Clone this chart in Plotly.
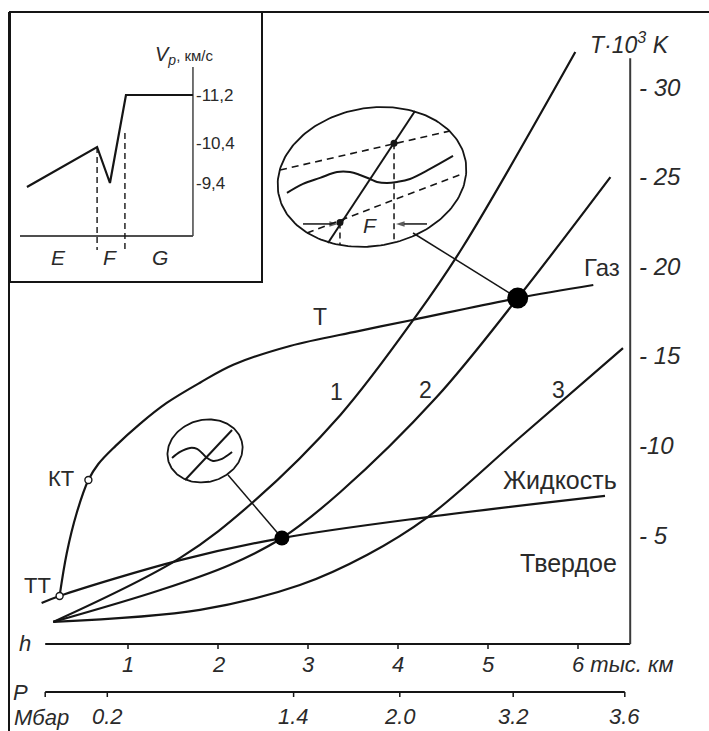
import numpy as np
import plotly.graph_objects as go

# ---------------- data (h in thousand km, T in 10^3 K) ----------------
curve1_h = [0.17, 1.58, 2.39, 3.36, 4.21, 4.72, 5.97]
curve1_T = [0.15, 3.72, 6.84, 11.70, 17.28, 21.07, 31.95]
curve2_h = [0.17, 1.36, 2.13, 2.71, 3.36, 4.43, 5.33, 6.36]
curve2_T = [0.15, 1.93, 3.33, 4.83, 7.40, 12.70, 18.22, 24.97]
curve3_h = [0.17, 1.80, 2.91, 3.66, 4.33, 5.36, 6.50]
curve3_T = [0.15, 0.82, 2.21, 3.90, 6.00, 10.47, 15.43]
melt_h = [0.04, 0.24, 1.58, 2.71, 4.33, 6.30]
melt_T = [1.21, 1.60, 3.60, 4.83, 6.00, 7.18]
boil_h = [0.24, 0.32, 0.43, 0.56, 0.67, 0.86, 1.13, 1.43, 1.80, 2.17, 2.80, 3.56, 4.16, 5.33, 6.17]
boil_T = [1.60, 4.00, 6.23, 8.07, 8.96, 9.96, 11.19, 12.37, 13.50, 14.50, 15.55, 16.38, 17.00, 18.22, 18.95]

tt_point = (0.24, 1.60)
kt_point = (0.56, 8.07)
dot_small = (2.71, 4.83)
dot_big = (5.33, 18.22)

T_ticks = [5, 10, 15, 20, 25, 30]
T_tick_text = ["- 5", "-10", "- 15", "- 20", "- 25", "- 30"]
h_ticks = [1, 2, 3, 4, 5, 6]
h_tick_text = ["1", "2", "3", "4", "5", "6"]
P_tick_text = ["0.2", "1.4", "2.0", "3.2", "3.6"]
P_tick_h = [0.77, 2.84, 4.02, 5.28, 6.52]

# inset: Vp (km/s) vs schematic depth
inset_x = [0.4, 4.43, 5.17, 6.09, 9.94]
inset_vp = [9.3, 10.3, 9.4, 11.2, 11.2]
inset_tick_vals = [9.4, 10.4, 11.2]
inset_tick_text = ["-9,4", "-10,4", "-11,2"]
inset_bounds = [4.43, 6.03]
inset_zones = ["E", "F", "G"]

# ---------------- layout constants ----------------
W, H = 709, 731
XR = [-0.4222, 7.4556]
YR = [-5.9375, 34.855]
SX = W / (XR[1] - XR[0])
SY = H / (YR[1] - YR[0])
FONT = "Arial, Liberation Sans, sans-serif"
INK = "#151515"
TXT = "#2a2a2a"

h_axis_T = -1.08
T_axis_h = 6.58
P_axis_T = -3.76
axis_h0 = 0.08

# inset schematic vertical levels
level_vals = [8.4, 9.4, 10.4, 11.2]
level_pos = [0.0, 1.0, 2.0, 3.2]


def vp_level(v):
    return np.interp(v, level_vals, level_pos)


fig = go.Figure()


def line(x, y, width=2.0, color=INK, dash=None, shape="linear", xa="x", ya="y", smoothing=1.0):
    fig.add_trace(go.Scatter(x=x, y=y, mode="lines", xaxis=xa, yaxis=ya,
                             line=dict(color=color, width=width, dash=dash, shape=shape, smoothing=smoothing),
                             hoverinfo="skip", showlegend=False))


def text(x, y, s, size=23, italic=False, xanchor="center", yanchor="middle", xref="x", yref="y"):
    if italic:
        s = "<i>" + s + "</i>"
    fig.add_annotation(x=x, y=y, text=s, showarrow=False, xref=xref, yref=yref,
                       xanchor=xanchor, yanchor=yanchor,
                       font=dict(family=FONT, size=size, color=TXT))


def oval(cx, cy, rx, ry, rot):
    t = np.linspace(0, 2 * np.pi, 181)
    a = np.radians(rot)
    dx = rx * np.cos(t) * np.cos(a) - ry * np.sin(t) * np.sin(a)
    dy = rx * np.cos(t) * np.sin(a) + ry * np.sin(t) * np.cos(a)
    return cx + dx / SX, cy + dy / SY


def glyph(c, rx, ry, u, v):
    return (c[0] + np.asarray(u, float) * rx / SX).tolist(), (c[1] + np.asarray(v, float) * ry / SY).tolist()


# ---------------- main curves ----------------
for hx, ty in [(curve1_h, curve1_T), (curve2_h, curve2_T), (curve3_h, curve3_T),
               (melt_h, melt_T), (boil_h, boil_T)]:
    line(hx, ty, width=2.2, shape="spline")

# axes
line([axis_h0, T_axis_h], [h_axis_T, h_axis_T], width=2)
line([T_axis_h, T_axis_h], [h_axis_T, 31.6], width=2, color="#3a3a3a")
line([axis_h0, P_tick_h[-1]], [P_axis_T, P_axis_T], width=2)
tick_len_T = 5 / SY
for hv in h_ticks:
    line([hv, hv], [h_axis_T, h_axis_T - tick_len_T], width=1.5)
for hv in [axis_h0] + P_tick_h:
    line([hv, hv], [P_axis_T, P_axis_T - tick_len_T], width=1.5)

# tick labels
for tv, tt in zip(T_ticks, T_tick_text):
    text(T_axis_h + 7 / SX, tv, tt, size=24, italic=True, xanchor="left")
for hv, ht in zip(h_ticks[:-1], h_tick_text[:-1]):
    text(hv, h_axis_T - 21 / SY, ht, size=22, italic=True)
text(h_ticks[-1] - 8 / SX, h_axis_T - 21 / SY, h_tick_text[-1] + " тыс. км", size=22, italic=True, xanchor="left")
for hv, pt in zip(P_tick_h, P_tick_text):
    text(hv, P_axis_T - 25 / SY, pt, size=22, italic=True)
text(axis_h0 - 20 / SX, h_axis_T, "h", size=22, italic=True)
text(axis_h0 - 25 / SX, P_axis_T - 1 / SY, "P", size=22, italic=True)
text(axis_h0 - 33 / SX, P_axis_T - 26 / SY, "Мбар", size=22, italic=True, xanchor="left")
text(T_axis_h, 31.6 + 15 / SY, "T·10<sup>3</sup> K", size=23, italic=True)

# region / curve labels
text(3.13, 17.16, "Т", size=23)
text(3.32, 12.98, "1", size=23)
text(4.30, 13.09, "2", size=23)
text(5.78, 13.09, "3", size=23)
text(6.27, 19.90, "Газ", size=24)
text(5.80, 8.07, "Жидкость", size=25)
text(5.89, 3.44, "Твердое", size=25)
text(0.26, 8.18, "КТ", size=22)
text(-0.01, 2.20, "ТТ", size=22)

# ---------------- magnifier ovals ----------------
big_c = (3.711, 24.98)
big_rx, big_ry = 95, 69
small_c = (1.856, 9.69)
small_rx, small_ry = 38, 31

ox, oy = oval(big_c[0], big_c[1], big_rx, big_ry, 10)
line(ox.tolist(), oy.tolist(), width=1.8)
ox, oy = oval(small_c[0], small_c[1], small_rx, small_ry, 15)
line(ox.tolist(), oy.tolist(), width=1.8)

# connectors
cx_, cy_ = glyph(big_c, big_rx, big_ry, [0.432], [-0.812])
line([cx_[0], dot_big[0]], [cy_[0], dot_big[1]], width=1.5)
cx_, cy_ = glyph(small_c, small_rx, small_ry, [0.605], [-0.774])
line([cx_[0], dot_small[0]], [cy_[0], dot_small[1]], width=1.5)

# big oval contents
gx, gy = glyph(big_c, big_rx, big_ry, [-0.463, 0.453], [-0.957, 0.957])
line(gx, gy, width=2)
gx, gy = glyph(big_c, big_rx, big_ry, [-0.968, 0.821], [0.101, 0.667])
line(gx, gy, width=1.6, dash="7px,5px")
gx, gy = glyph(big_c, big_rx, big_ry, [-0.684, 0.947], [-0.812, 0.043])
line(gx, gy, width=1.6, dash="7px,5px")
wave_u = [-0.895, -0.726, -0.547, -0.368, -0.232, -0.126, -0.021, 0.053, 0.158, 0.263, 0.4, 0.611, 0.853]
wave_v = [-0.232, -0.101, -0.014, 0.072, 0.072, 0.029, -0.029, -0.072, -0.087, -0.072, -0.029, 0.116, 0.304]
gx, gy = glyph(big_c, big_rx, big_ry, wave_u, wave_v)
line(gx, gy, width=2, shape="spline")
gx, gy = glyph(big_c, big_rx, big_ry, [0.232, 0.232], [0.49, -0.928])
line(gx, gy, width=1.5, dash="6px,4px")
gx, gy = glyph(big_c, big_rx, big_ry, [-0.337, -0.337], [-0.66, -0.986])
line(gx, gy, width=1.5, dash="6px,4px")
gx, gy = glyph(big_c, big_rx, big_ry, [0.232, -0.337], [0.49, -0.66])
fig.add_trace(go.Scatter(x=gx, y=gy, mode="markers", marker=dict(color=INK, size=7),
                         hoverinfo="skip", showlegend=False))
# arrows (line + arrow-head marker)
for (u0, u1) in [(-0.726, -0.358), (0.579, 0.253)]:
    ax_, ay_ = glyph(big_c, big_rx, big_ry, [u0, u1], [-0.681, -0.681])
    fig.add_trace(go.Scatter(x=ax_, y=ay_, mode="lines+markers",
                             line=dict(color=INK, width=1.5),
                             marker=dict(symbol=["circle", "arrow"], size=[0, 9], color=INK,
                                         angleref="previous", line=dict(width=0)),
                             hoverinfo="skip", showlegend=False))
fx, fy = glyph(big_c, big_rx, big_ry, [-0.021], [-0.71])
text(fx[0], fy[0], "F", size=21, italic=True)

# small oval contents
gx, gy = glyph(small_c, small_rx, small_ry, [-0.526, 0.711], [-0.935, 0.677])
line(gx, gy, width=2)
sw_u = [-0.868, -0.658, -0.395, -0.211, -0.079, 0.053, 0.211, 0.447, 0.605, 0.711]
sw_v = [-0.226, -0.032, 0.097, 0.065, -0.065, -0.226, -0.323, -0.258, -0.129, -0.032]
gx, gy = glyph(small_c, small_rx, small_ry, sw_u, sw_v)
line(gx, gy, width=2, shape="spline")

# points
fig.add_trace(go.Scatter(x=[dot_small[0]], y=[dot_small[1]], mode="markers",
                         marker=dict(color="black", size=15), hoverinfo="skip", showlegend=False))
fig.add_trace(go.Scatter(x=[dot_big[0]], y=[dot_big[1]], mode="markers",
                         marker=dict(color="black", size=21), hoverinfo="skip", showlegend=False))
fig.add_trace(go.Scatter(x=[tt_point[0], kt_point[0]], y=[tt_point[1], kt_point[1]], mode="markers",
                         marker=dict(color="white", size=7, line=dict(color=INK, width=1.4)),
                         hoverinfo="skip", showlegend=False))

# ---------------- inset ----------------
ix0, ix1, iy0, iy1 = 10, 262, 12, 282
X2R = [-0.575, 13.908]
Y2R = [-1.475, 5.275]
ISX = (ix1 - ix0) / (X2R[1] - X2R[0])
in_axis_x1 = 9.94
in_axis_y0 = -0.325

fig.add_shape(type="rect", xref="paper", yref="paper", x0=ix0 / W, x1=ix1 / W,
              y0=1 - iy1 / H, y1=1 - iy0 / H, line=dict(color=INK, width=2),
              fillcolor="white", layer="below")
line([0, in_axis_x1], [in_axis_y0, in_axis_y0], width=1.5, xa="x2", ya="y2")
line([in_axis_x1, in_axis_x1], [in_axis_y0, 3.9], width=1.5, color="#444", xa="x2", ya="y2")
line(inset_x, vp_level(inset_vp).tolist(), width=2.2, xa="x2", ya="y2")
line([inset_bounds[0]] * 2, [1.9, -0.675], width=1.4, dash="6px,4px", xa="x2", ya="y2")
line([inset_bounds[1]] * 2, [2.25, -0.675], width=1.4, dash="6px,4px", xa="x2", ya="y2")
for tv, tt in zip(inset_tick_vals, inset_tick_text):
    text(in_axis_x1 + 1 / ISX, float(vp_level(tv)), tt, size=17, xanchor="left", xref="x2", yref="y2")
zone_x = [2.24, 5.17, 8.05]
for zx, zt in zip(zone_x, inset_zones):
    text(zx, -0.85, zt, size=21, italic=True, xref="x2", yref="y2")
text(9.48, 4.2, "<i>V<sub>p</sub></i><span style='font-size:15px'>, км/с</span>", size=20,
     xref="x2", yref="y2")

# outer frame
fig.add_shape(type="line", xref="paper", yref="paper", x0=9 / W, x1=9 / W, y0=0, y1=1 - 12 / H,
              line=dict(color=INK, width=2))
fig.add_shape(type="line", xref="paper", yref="paper", x0=9 / W, x1=1, y0=1 - 12 / H, y1=1 - 12 / H,
              line=dict(color=INK, width=2))

fig.update_layout(
    width=W, height=H, margin=dict(l=0, r=0, t=0, b=0),
    paper_bgcolor="white", plot_bgcolor="rgba(0,0,0,0)",
    font=dict(family=FONT, color=TXT),
    xaxis=dict(range=XR, domain=[0, 1], visible=False, fixedrange=True),
    yaxis=dict(range=YR, domain=[0, 1], visible=False, fixedrange=True),
    xaxis2=dict(range=X2R, domain=[ix0 / W, ix1 / W], visible=False, anchor="y2"),
    yaxis2=dict(range=Y2R, domain=[1 - iy1 / H, 1 - iy0 / H], visible=False, anchor="x2"),
    showlegend=False,
)

fig.write_html("out.html", config={"displayModeBar": False},
               post_script="document.body.style.margin='0';document.body.style.overflow='hidden';")
